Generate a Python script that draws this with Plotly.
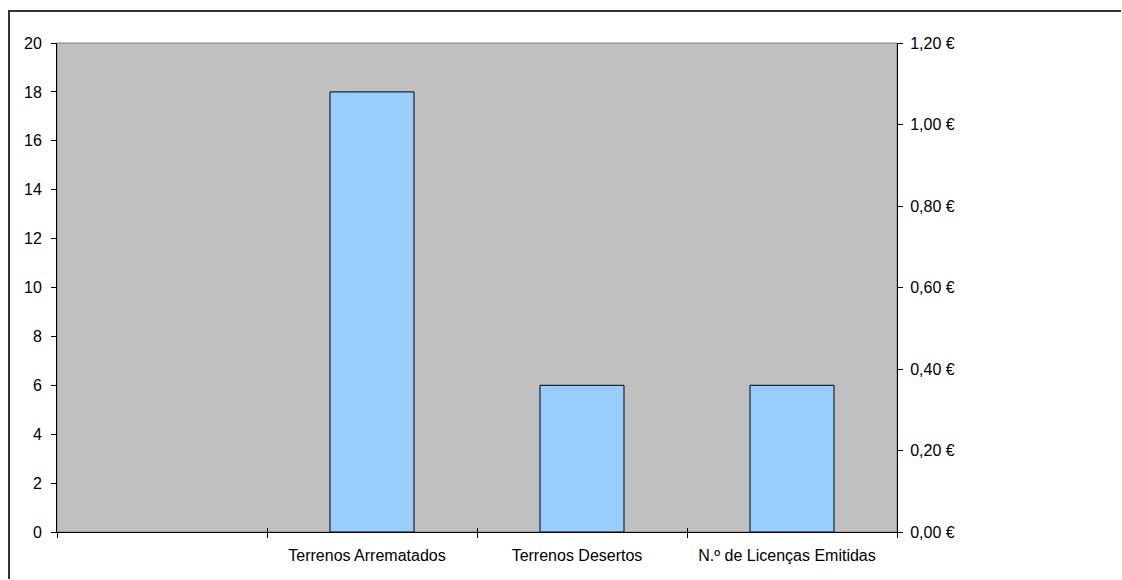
import plotly.graph_objects as go

# Chart data
categories = [" ", "Terrenos Arrematados", "Terrenos Desertos", "N.º de Licenças Emitidas"]
counts = [None, 18, 6, 6]

left_ticks = list(range(0, 21, 2))
right_ticks = [0.0, 0.2, 0.4, 0.6, 0.8, 1.0, 1.2]
right_labels = [f"{v:.2f}".replace(".", ",") + " €" for v in right_ticks]

FONT = dict(family="Liberation Sans, Arial, sans-serif", size=16, color="black")

W, H = 1122, 580
M = dict(l=57, r=225, t=43, b=48)
plot_w = W - M["l"] - M["r"]
plot_h = H - M["t"] - M["b"]


def px_to_paper(px, py):
    """Convert page pixels to paper coordinates."""
    return (px - M["l"]) / plot_w, (H - M["b"] - py) / plot_h


fig = go.Figure()

fig.add_trace(go.Bar(
    x=categories,
    y=counts,
    marker=dict(color="#99CCFF", line=dict(color="black", width=1)),
    showlegend=False,
    hoverinfo="x+y",
))

# empty trace that carries the secondary (euro) axis and the inner tick marks
fig.add_trace(go.Scatter(
    x=[], y=[], xaxis="x2", yaxis="y2", mode="markers",
    showlegend=False, hoverinfo="skip",
))

# chart-area frame: left and top edges, running off the page edges
fx0, fy_bottom = px_to_paper(9, H - 1)
_, fy_top = px_to_paper(9, 11)
fx1, _ = px_to_paper(W - 1, 11)
frame_path = f"M {fx0},{fy_bottom} L {fx0},{fy_top} L {fx1},{fy_top}"

fig.update_layout(
    width=W,
    height=H,
    margin=dict(**M, pad=0),
    paper_bgcolor="white",
    plot_bgcolor="#C0C0C0",
    font=FONT,
    bargap=0.6,
    showlegend=False,
    xaxis=dict(
        type="category",
        categoryorder="array",
        categoryarray=categories,
        tickson="boundaries",
        ticks="outside",
        ticklen=5,
        tickcolor="black",
        tickwidth=1,
        showline=True,
        linecolor="black",
        linewidth=1,
        showgrid=False,
        zeroline=False,
        ticklabelstandoff=9,
        ticklabelshift=-5,
        tickfont=FONT,
    ),
    # inner half of the crossing category ticks
    xaxis2=dict(
        overlaying="x",
        side="bottom",
        range=[-0.5, 3.5],
        tick0=-0.5,
        dtick=1,
        ticks="inside",
        ticklen=4,
        tickcolor="black",
        showticklabels=False,
        showline=False,
        showgrid=False,
        zeroline=False,
        fixedrange=True,
    ),
    yaxis=dict(
        range=[0, 20],
        tickvals=left_ticks,
        ticks="outside",
        ticklen=5,
        tickcolor="black",
        showline=True,
        linecolor="black",
        linewidth=1,
        showgrid=False,
        zeroline=False,
        ticklabelstandoff=6,
        tickfont=FONT,
    ),
    yaxis2=dict(
        overlaying="y",
        side="right",
        range=[0, 1.2],
        tickmode="array",
        tickvals=right_ticks,
        ticktext=right_labels,
        ticks="outside",
        ticklen=5,
        tickcolor="black",
        showline=True,
        linecolor="black",
        linewidth=1,
        showgrid=False,
        zeroline=False,
        ticklabelstandoff=4,
        tickfont=FONT,
        fixedrange=True,
    ),
    shapes=[
        # plot-area frame
        dict(type="rect", xref="paper", yref="paper", x0=0, x1=1, y0=0, y1=1,
             line=dict(color="#808080", width=1), layer="below"),
        dict(type="path", xref="paper", yref="paper", path=frame_path,
             line=dict(color="#333333", width=2), layer="above"),
    ],
)

fig.write_html("out.html")
